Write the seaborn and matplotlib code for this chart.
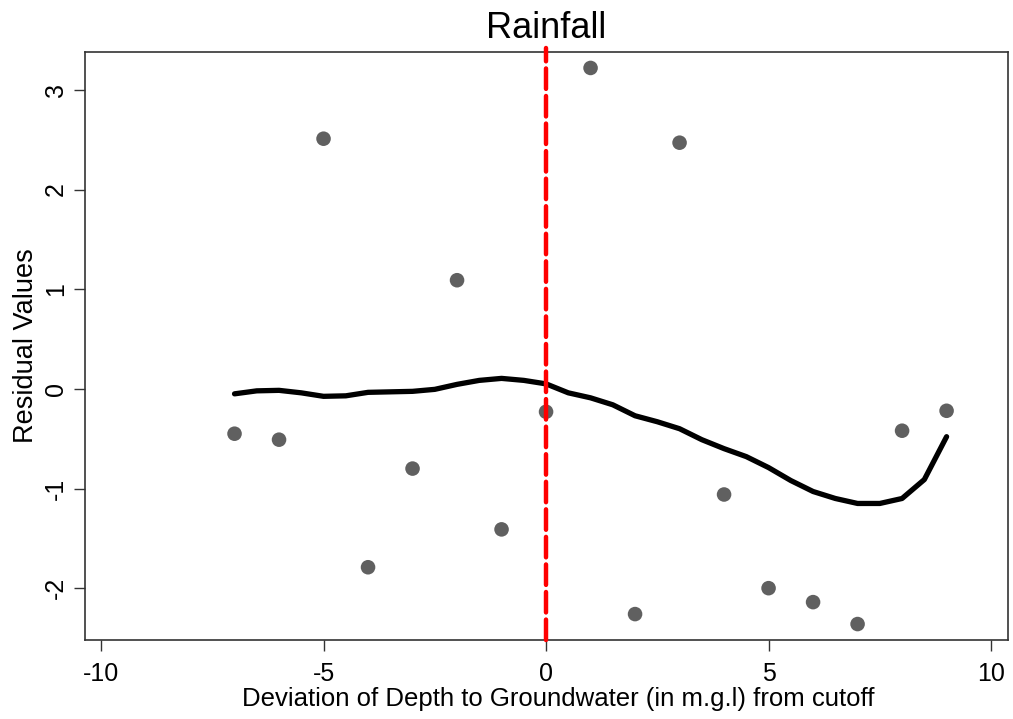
import os
import matplotlib
matplotlib.use("Agg")
import matplotlib.pyplot as plt
from matplotlib import font_manager as fm
import seaborn as sns
import pandas as pd

# Scatter data (residuals)
dev_x = [-7, -6, -5, -4, -3, -2, -1, 0, 1, 2, 3, 4, 5, 6, 7, 8, 9]
resid_y = [-0.45, -0.51, 2.51, -1.79, -0.80, 1.09, -1.41, -0.23, 3.22,
           -2.26, 2.47, -1.06, -2.00, -2.14, -2.36, -0.42, -0.22]

# Smoothed (lowess) line
smooth_x = [-7, -6.5, -6, -5.5, -5, -4.5, -4, -3.5, -3, -2.5, -2, -1.5, -1, -0.5,
            0, 0.5, 1, 1.5, 2, 2.5, 3, 3.5, 4, 4.5, 5, 5.5, 6, 6.5, 7, 7.5, 8, 8.5, 9]
smooth_y = [-0.05, -0.02, -0.015, -0.04, -0.075, -0.07, -0.035, -0.03, -0.025, -0.005,
            0.045, 0.085, 0.105, 0.085, 0.05, -0.04, -0.09, -0.16, -0.27, -0.33,
            -0.40, -0.51, -0.60, -0.68, -0.79, -0.92, -1.03, -1.10, -1.15, -1.15,
            -1.10, -0.91, -0.48]

cutoff = 0
x_ticks = [-10, -5, 0, 5, 10]
y_ticks = [-2, -1, 0, 1, 2, 3]

sns.set_style("white")
plt.rcParams['font.family'] = ['Liberation Sans', 'DejaVu Sans']
plt.rcParams['text.color'] = 'black'
plt.rcParams['axes.labelcolor'] = 'black'
plt.rcParams['xtick.color'] = 'black'
plt.rcParams['ytick.color'] = 'black'

font_path = None
for p in fm.findSystemFonts():
    b = os.path.basename(p).lower()
    if b.startswith("liberationsans-regular"):
        font_path = p
        break


def fp(size):
    if font_path:
        return fm.FontProperties(fname=font_path, size=size)
    return fm.FontProperties(family="Liberation Sans", size=size)


df_pts = pd.DataFrame({"x": dev_x, "y": resid_y})
df_line = pd.DataFrame({"x": smooth_x, "y": smooth_y})

fig = plt.figure(figsize=(10.13, 7.19), dpi=100)
ax = fig.add_axes([85/1013, 1 - 640/719, (1008-85)/1013, (640-52)/719])

sns.scatterplot(data=df_pts, x="x", y="y", ax=ax, color="#606060", s=110,
                edgecolor="none", zorder=3)
sns.lineplot(data=df_line, x="x", y="y", ax=ax, color="black", linewidth=3.8,
             zorder=4)
ax.axvline(cutoff, color="#FF0000", linewidth=3.2, linestyle=(0, (4.6, 1.6)),
           dash_capstyle="round", zorder=5, ymin=0, ymax=1.007, clip_on=False)

ax.set_xlim(-10.36, 10.38)
ax.set_ylim(-2.52, 3.38)
ax.set_xticks(x_ticks)
ax.set_yticks(y_ticks)
ax.set_xticklabels([str(t) for t in x_ticks])
ax.set_yticklabels([str(t) for t in y_ticks], rotation=90, va="center")
for lbl in ax.get_xticklabels() + ax.get_yticklabels():
    lbl.set_fontproperties(fp(18))
    lbl.set_color("black")
ax.tick_params(axis="both", direction="out", length=8, width=1, color="#333333",
               bottom=True, left=True)
ax.tick_params(axis="x", pad=8)
ax.tick_params(axis="y", pad=4.5)

for s in ax.spines.values():
    s.set_color("#333333")
    s.set_linewidth(1.2)

ax.set_xlabel("Deviation of Depth to Groundwater (in m.g.l) from cutoff",
              fontproperties=fp(18.5), color="black")
ax.xaxis.set_label_coords(0.513, -0.08)
ax.set_ylabel("Residual Values", fontproperties=fp(19.5), color="black")
ax.yaxis.set_label_coords(-0.050, 0.5)
ax.set_title("Rainfall", fontproperties=fp(26), pad=10, color="black")

fig.savefig("out.png", dpi=100)
